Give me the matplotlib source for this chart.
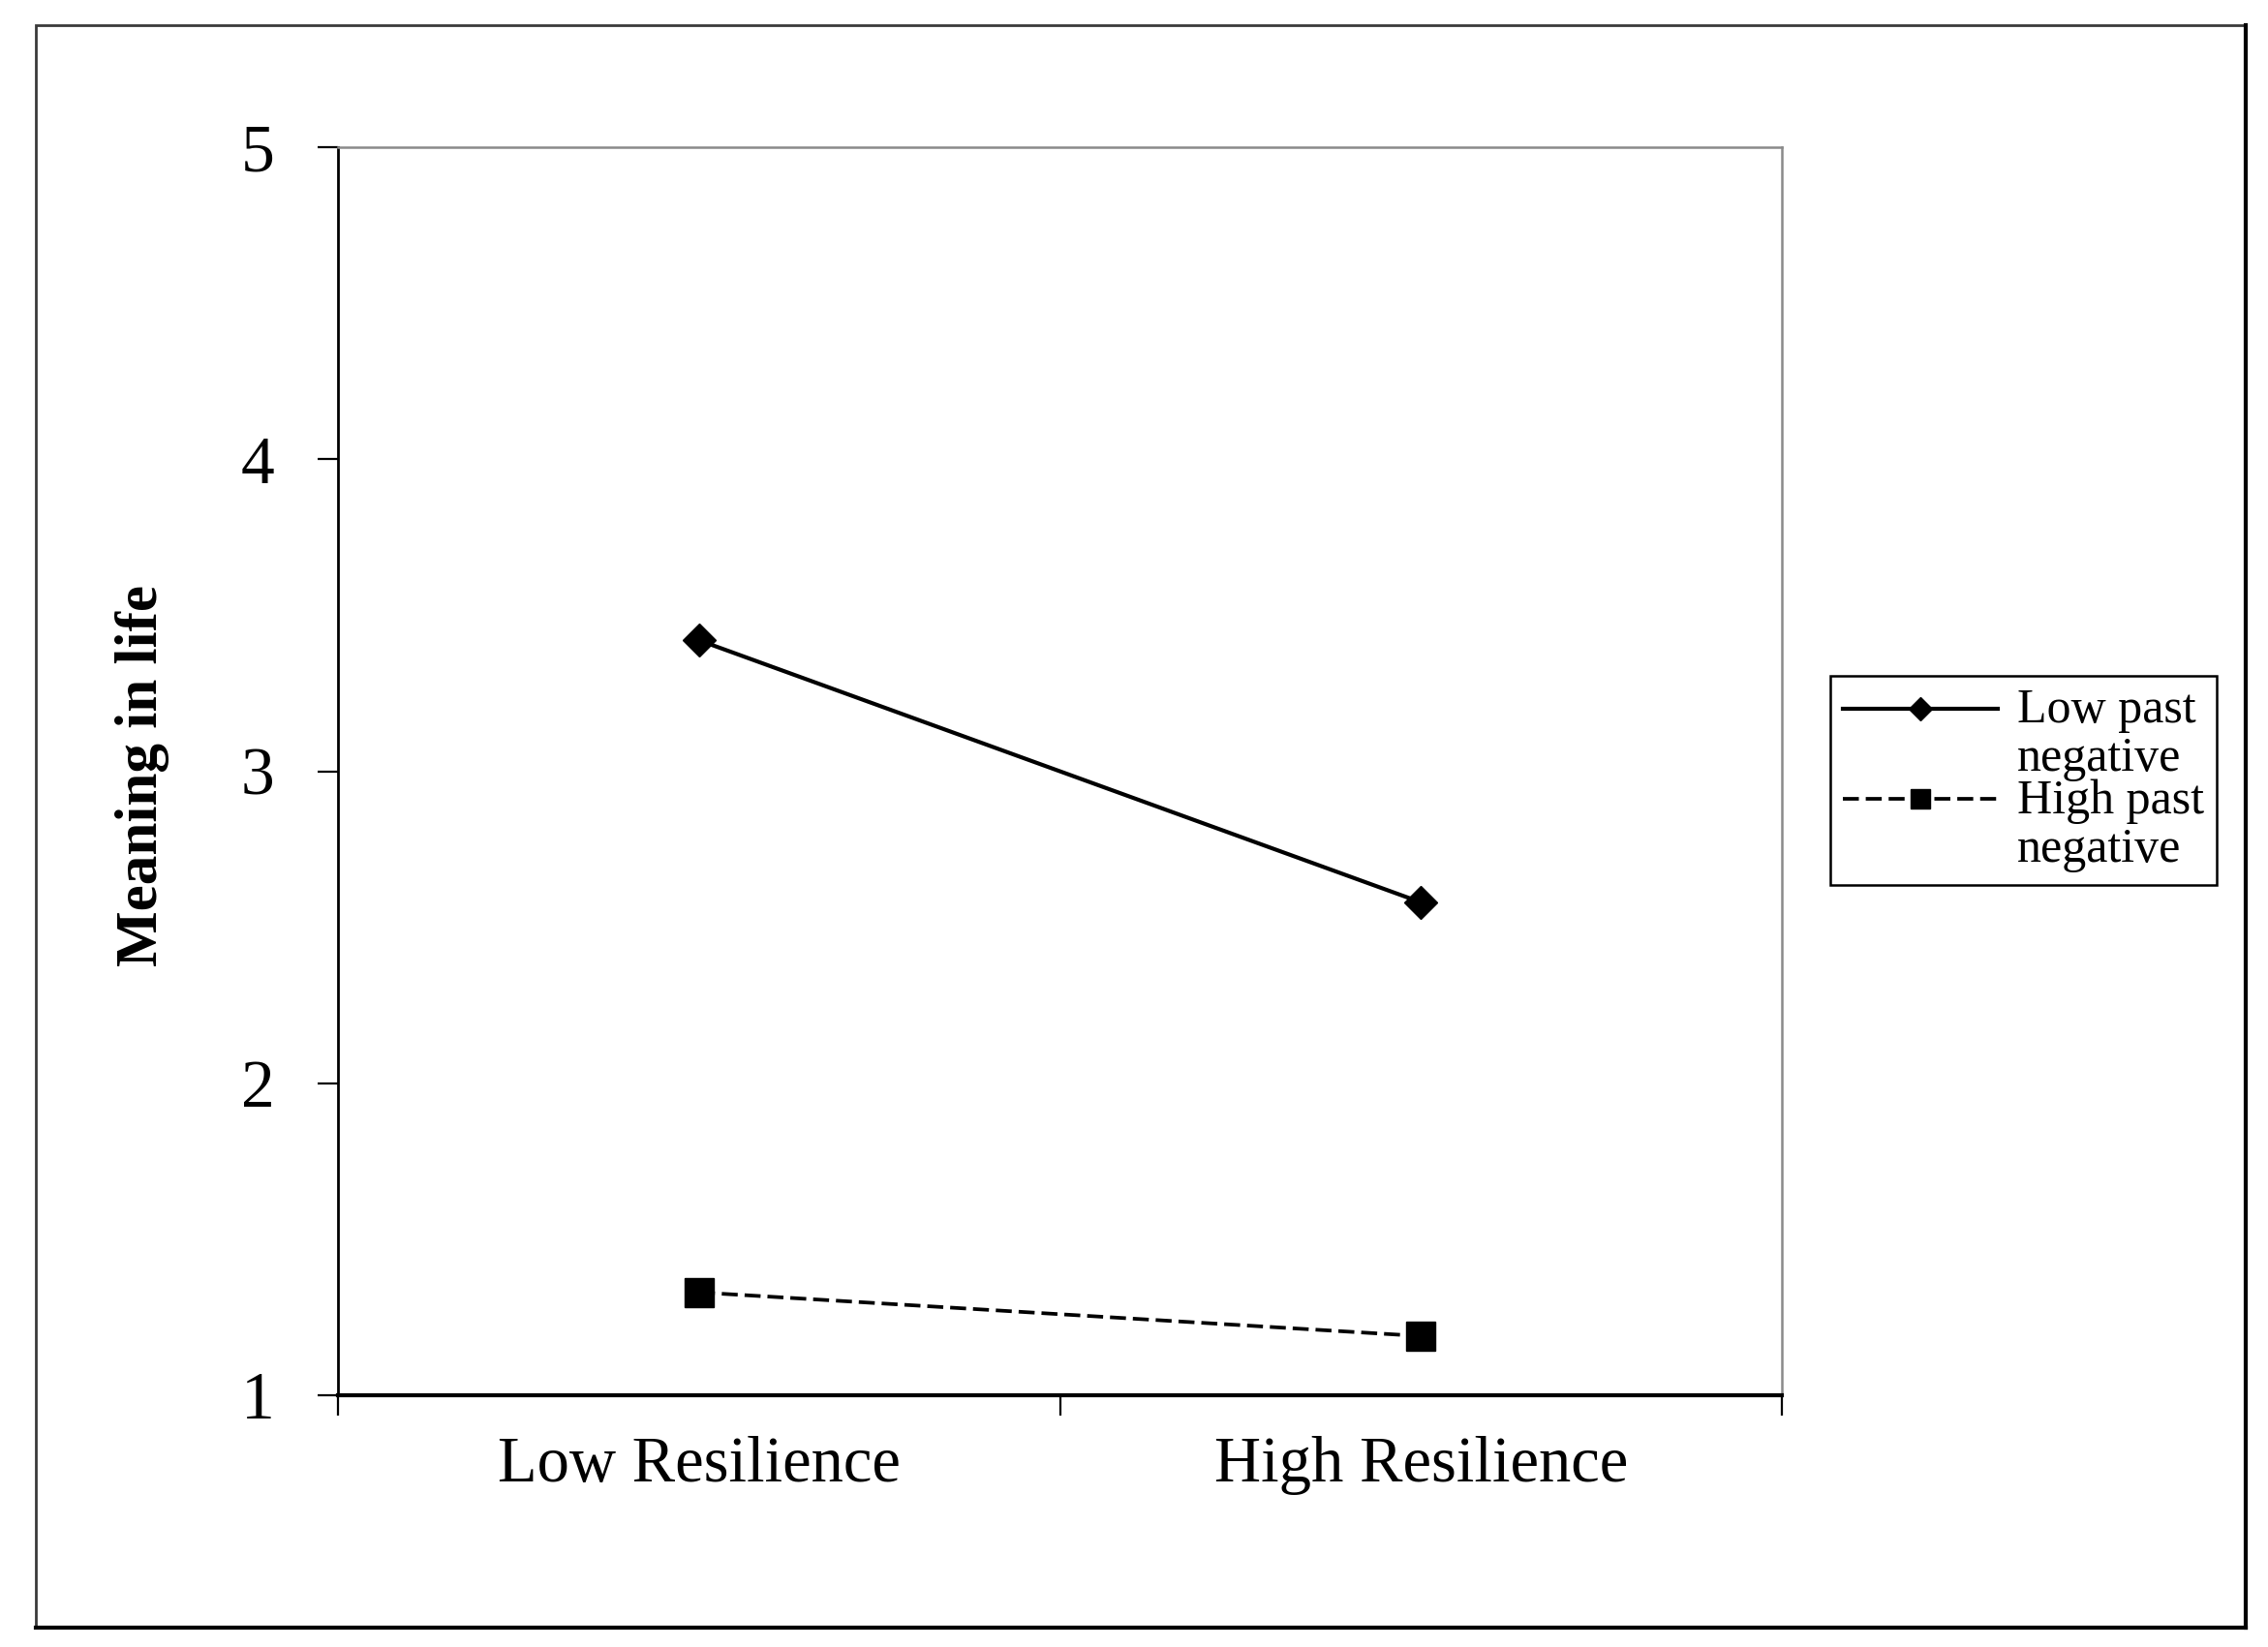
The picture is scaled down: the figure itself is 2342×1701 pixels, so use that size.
import numpy as np
import matplotlib.pyplot as plt
from matplotlib.patches import Rectangle
from matplotlib.legend_handler import HandlerLine2D

# data
groups = ['Low Resilience', 'High Resilience']
low_past_negative = [3.42, 2.58]
high_past_negative = [1.33, 1.19]
series_labels = ['Low past\nnegative', 'High past\nnegative']
y_ticks = [1, 2, 3, 4, 5]

plt.rcParams['font.family'] = ['Liberation Serif', 'DejaVu Serif']


# legend handle sits next to the first line of a two-line label
class FirstLineHandler(HandlerLine2D):
    def create_artists(self, legend, orig_handle, xdescent, ydescent,
                       width, height, fontsize, trans):
        return super().create_artists(legend, orig_handle, xdescent,
                                      ydescent - 1.1 * fontsize, width,
                                      height, fontsize, trans)


fig = plt.figure(figsize=(23.42, 17.01), dpi=100)
ax = fig.add_axes([0.1490, 0.1528, 0.6367, 0.7578])

x = np.arange(len(groups)) + 0.5
l1, = ax.plot(x, low_past_negative, color='black', lw=3.0, marker='D', ms=17,
              label=series_labels[0])
l2, = ax.plot(x, high_past_negative, color='black', lw=2.7, marker='s', ms=21,
              dashes=(4.4, 1.9), label=series_labels[1])

ax.set_xlim(0, len(groups))
ax.set_ylim(1, 5)
ax.set_yticks(y_ticks)
ax.set_yticklabels([str(v) for v in y_ticks], fontsize=50)
ax.set_xticks(np.arange(len(groups) + 1))
ax.set_xticklabels([])
ax.set_xticks(x, minor=True)
ax.set_xticklabels(groups, minor=True, fontsize=48)
ax.tick_params(axis='x', which='major', direction='out', length=15, width=1.6)
ax.tick_params(axis='x', which='minor', length=0, pad=30)
ax.tick_params(axis='y', direction='out', length=15, width=1.6, pad=32)

ax.spines['left'].set_linewidth(2.0)
ax.spines['bottom'].set_linewidth(3.0)
for s in ['top', 'right']:
    ax.spines[s].set_color('#8a8a8a')
    ax.spines[s].set_linewidth(1.8)

fig.text(0.0628, 0.529, 'Meaning in life', rotation=90, ha='center',
         va='center', fontsize=44, fontweight='bold')

leg = ax.legend(handler_map={l1: FirstLineHandler(), l2: FirstLineHandler()},
                loc='upper left', bbox_to_anchor=(0.807, 0.5897),
                bbox_transform=fig.transFigure, borderaxespad=0,
                fontsize=36, frameon=True, fancybox=False, framealpha=1,
                edgecolor='black', handlelength=3.2, handletextpad=0.4,
                borderpad=0.26, labelspacing=-0.06, markerscale=0.7)
leg.get_frame().set_linewidth(1.8)
for t in leg.get_texts():
    t.set_linespacing(1.1)

# outer frame
fig.patches.append(Rectangle((37 / 2342, 1 - 1680 / 1701), (2318 - 37) / 2342,
                             (1680 - 26) / 1701, transform=fig.transFigure,
                             fill=False, edgecolor='#3a3a3a', lw=2))
fig.lines.append(plt.Line2D([37 / 2342, 2319 / 2342], [1 - 1681 / 1701] * 2,
                            transform=fig.transFigure, color='black', lw=3))
fig.lines.append(plt.Line2D([2319 / 2342] * 2, [1 - 1681 / 1701, 1 - 26 / 1701],
                            transform=fig.transFigure, color='black', lw=3))

fig.savefig('out.png', dpi=100, facecolor='white')
